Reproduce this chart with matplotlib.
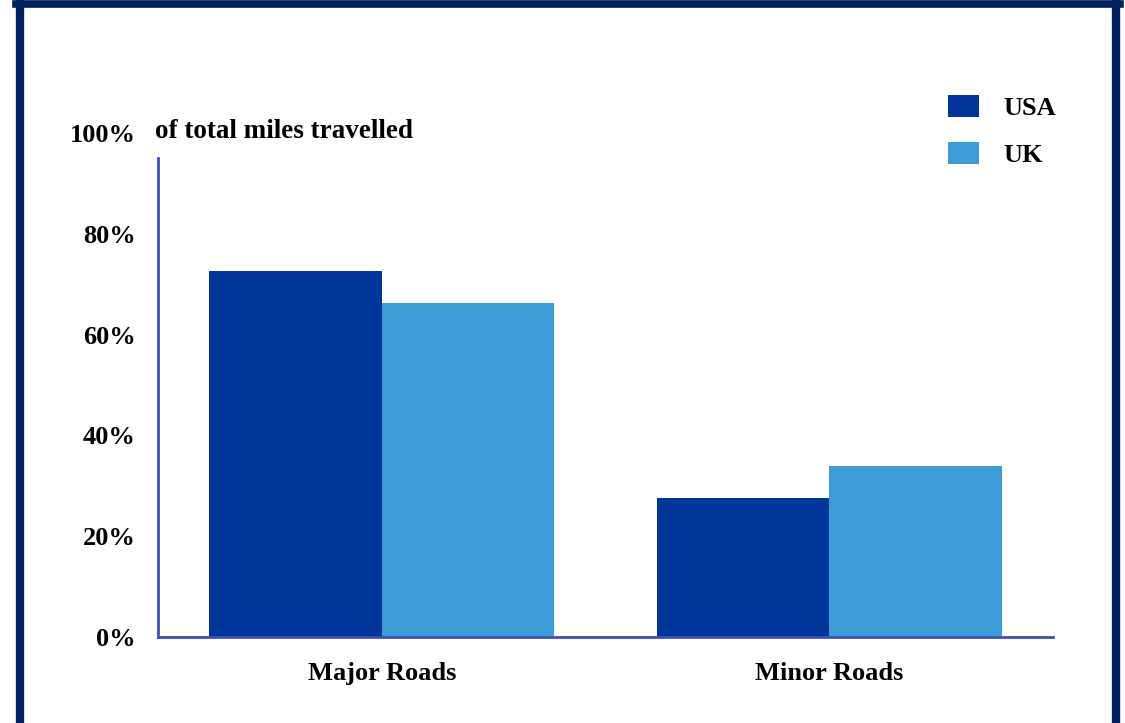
import numpy as np
import matplotlib
matplotlib.use("Agg")
from matplotlib import pyplot as plt
from matplotlib.lines import Line2D

categories = ["Major Roads", "Minor Roads"]
usa = [72.6, 27.6]
uk = [66.3, 33.9]
yticks = [0, 20, 40, 60, 80, 100]

plt.rcParams['font.family'] = ['Liberation Serif', 'DejaVu Serif']
plt.rcParams['font.weight'] = 'bold'

fig = plt.figure(figsize=(11.25, 7.23), dpi=100)
ax = fig.add_axes([158/1125, 86/723, (1053-158)/1125, (637-133)/723])

x = np.arange(len(categories))
w = 0.385
ax.bar(x - w/2, usa, w, color="#00359A", label="USA")
ax.bar(x + w/2, uk, w, color="#3D9CD5", label="UK")

ax.set_xlim(-0.5, 1.5)
ax.set_ylim(0, 100)
ax.set_yticks(yticks)
ax.set_yticklabels([f"{t}%" for t in yticks], fontsize=19, fontweight='bold')
ax.set_xticks(x)
ax.set_xticklabels(categories, fontsize=19, fontweight='bold')
ax.tick_params(length=0)
ax.tick_params(axis='y', pad=16)
ax.tick_params(axis='x', pad=18)

for s in ["top", "right"]:
    ax.spines[s].set_visible(False)
for s in ["left", "bottom"]:
    ax.spines[s].set_color("#3F51B5")
    ax.spines[s].set_linewidth(2)
ax.spines["left"].set_bounds(0, 95)

ax.text(155/1125, (723-131)/723, "of total miles travelled", transform=fig.transFigure,
        fontsize=19.5, fontweight='bold', va='center', ha='left')

leg = fig.legend(loc="upper left", bbox_to_anchor=(924/1125, 1 - 71/723), frameon=False,
                 fontsize=19, handlelength=1.17, handleheight=0.91, handletextpad=0.95,
                 labelspacing=0.85)

# dark frame around the figure
bc = "#002060"
fig.add_artist(Line2D([20/1125, 20/1125], [0, 1 - 3/723], transform=fig.transFigure, color=bc, lw=6))
fig.add_artist(Line2D([1116/1125, 1116/1125], [0, 1 - 3/723], transform=fig.transFigure, color=bc, lw=6))
fig.add_artist(Line2D([16/1125, 1120/1125], [1 - 3.5/723, 1 - 3.5/723], transform=fig.transFigure, color=bc, lw=5.5))

fig.savefig("out.png", dpi=100)
